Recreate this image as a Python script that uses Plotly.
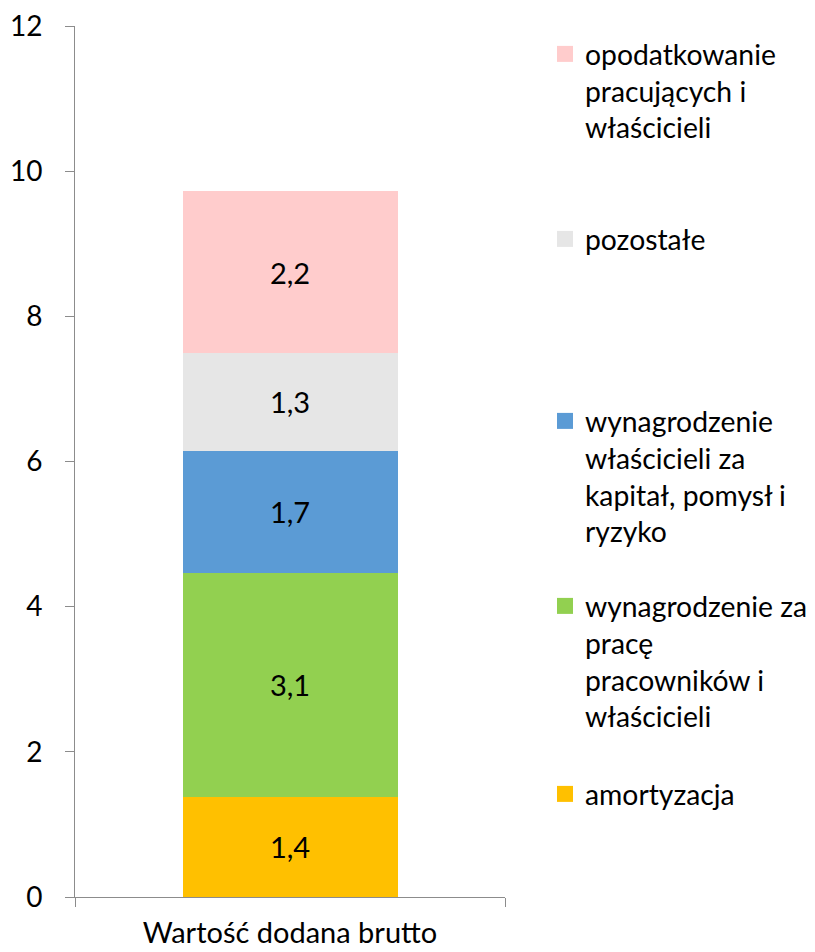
import plotly.graph_objects as go

categories = ["Wartość dodana brutto"]
series_names = [
    "amortyzacja",
    "wynagrodzenie za<br>pracę<br>pracowników i<br>właścicieli",
    "wynagrodzenie<br>właścicieli za<br>kapitał, pomysł i<br>ryzyko",
    "pozostałe",
    "opodatkowanie<br>pracujących i<br>właścicieli",
]
amortyzacja = [1.38]
wynagrodzenie_praca = [3.09]
wynagrodzenie_kapital = [1.68]
pozostale = [1.34]
opodatkowanie = [2.23]
series_values = [amortyzacja, wynagrodzenie_praca, wynagrodzenie_kapital, pozostale, opodatkowanie]
colors = ["#FFC000", "#92D050", "#5B9BD5", "#E6E6E6", "#FFCCCC"]
y_ticks = [0, 2, 4, 6, 8, 10, 12]

# page body has an 8px default margin; compensate in figure coordinates
OFF = 8
W, H = 815, 952
L, T = 75 - OFF, 26 - OFF
PW, PH = 430, 871
R = W - L - PW
B = H - T - PH
FONT = "Lato"
FS = 29
TFS = 28
LFS = 28.3

# legend first-line centre (screen px) for each series
legend_px = [57, 242, 424, 609, 797][::-1]
legend_ids = ["legend", "legend2", "legend3", "legend4", "legend5"]

def py(screen_px):
    return (T + PH - (screen_px - OFF)) / PH

def pxx(screen_px):
    return (screen_px - OFF - L) / PW

fig = go.Figure()
for i, (name, vals, col, lid) in enumerate(zip(series_names, series_values, colors, legend_ids)):
    fig.add_trace(go.Bar(
        x=categories, y=vals, name=name,
        marker=dict(color=col, line=dict(width=0)),
        texttemplate="%{y:.1f}", textposition="inside",
        insidetextanchor="middle", textangle=0, constraintext="none",
        textfont=dict(family=FONT, size=FS, color="black"),
        legendgroup=f"g{i}", showlegend=False, hoverinfo="skip",
    ))
    # legend entry with a larger square key
    fig.add_trace(go.Scatter(
        x=[None], y=[None], mode="markers", name=name,
        marker=dict(symbol="square", size=16, color=col, line=dict(width=0)),
        legendgroup=f"g{i}", legend=lid, showlegend=True, hoverinfo="skip",
    ))

layout_legends = {}
for lid, cpx in zip(legend_ids, legend_px):
    layout_legends[lid] = dict(
        x=pxx(545), xanchor="left",
        y=py(cpx - 28), yanchor="top",
        bgcolor="rgba(0,0,0,0)", borderwidth=0,
        font=dict(family=FONT, size=LFS, color="black"),
        valign="top", itemclick=False, itemdoubleclick=False,
    )

fig.update_layout(
    width=W, height=H,
    margin=dict(l=L, r=R, t=T, b=B, pad=0, autoexpand=False),
    paper_bgcolor="white", plot_bgcolor="white",
    barmode="stack", bargap=0.5,
    separators=", ",
    font=dict(family=FONT, size=FS, color="black"),
    showlegend=True,
    **layout_legends,
    xaxis=dict(
        type="category",
        showline=True, linecolor="#8C8C8C", linewidth=1,
        ticks="outside", ticklen=9, tickcolor="#8C8C8C", tickson="boundaries",
        showgrid=False, zeroline=False, ticklabelstandoff=10,
        tickfont=dict(family=FONT, size=FS, color="black"),
        fixedrange=True, automargin=False, ticklabeloverflow="allow",
    ),
    yaxis=dict(
        range=[0, 12], tickvals=y_ticks,
        showline=True, linecolor="#8C8C8C", linewidth=1,
        ticks="outside", ticklen=9, tickcolor="#8C8C8C",
        showgrid=False, zeroline=False, ticklabelstandoff=17,
        tickfont=dict(family=FONT, size=TFS, color="black"),
        fixedrange=True, automargin=False, ticklabeloverflow="allow",
    ),
)

fig.write_html("out.html")
